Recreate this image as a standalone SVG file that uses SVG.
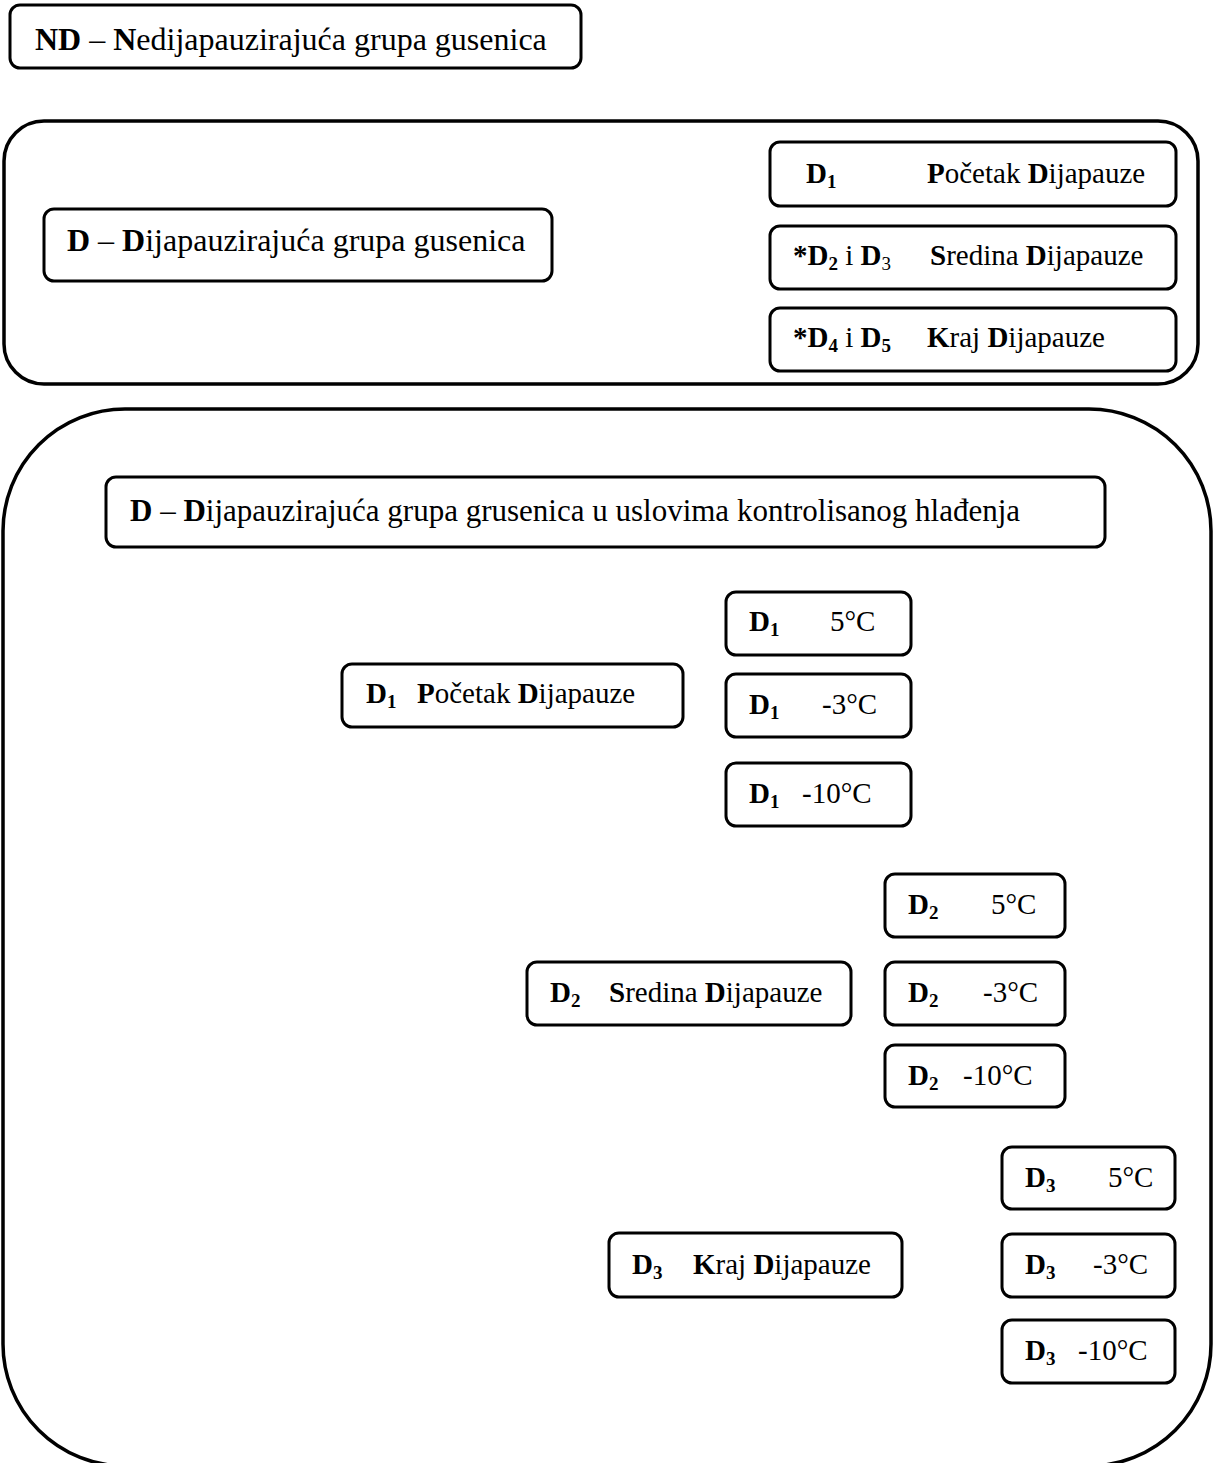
<svg xmlns="http://www.w3.org/2000/svg" width="1214" height="1463" viewBox="0 0 1214 1463">
<style>
.box{fill:#fff;stroke:#000;stroke-width:3}
.big{fill:none;stroke:#000;stroke-width:3.5}
text{font-family:"Liberation Serif","Times New Roman",serif;font-size:29px;fill:#000}
.t{font-size:32px}
.t2{font-size:31px}
.b{font-weight:bold}
.s{font-size:19px}
</style>
<rect width="1214" height="1463" fill="#fff"/>
<g id="nd">
<rect class="box" x="10" y="5" width="571" height="63" rx="10"/>
<text class="t" x="35" y="50"><tspan class="b">ND</tspan> – <tspan class="b">N</tspan>edijapauzirajuća grupa gusenica</text>
</g>
<g id="group-d">
<rect class="big" x="4" y="121" width="1194" height="263" rx="40"/>
<g id="d-title">
<rect class="box" x="44" y="209" width="508" height="72" rx="10"/>
<text class="t" x="67" y="251"><tspan class="b">D</tspan> – <tspan class="b">D</tspan>ijapauzirajuća grupa gusenica</text>
</g>
<g id="d1">
<rect class="box" x="770" y="142" width="406" height="64" rx="10"/>
<text x="806" y="183"><tspan class="b">D</tspan><tspan class="b s" dy="5">1</tspan></text>
<text x="927" y="183"><tspan class="b">P</tspan>očetak <tspan class="b">D</tspan>ijapauze</text>
</g>
<g id="d23">
<rect class="box" x="770" y="226" width="406" height="63" rx="10"/>
<text x="793" y="265"><tspan class="b">*D</tspan><tspan class="b s" dy="5">2</tspan><tspan dy="-5"> i </tspan><tspan class="b">D</tspan><tspan class="s" dy="5">3</tspan></text>
<text x="930" y="265"><tspan class="b">S</tspan>redina <tspan class="b">D</tspan>ijapauze</text>
</g>
<g id="d45">
<rect class="box" x="770" y="308" width="406" height="63" rx="10"/>
<text x="793" y="347"><tspan class="b">*D</tspan><tspan class="b s" dy="5">4</tspan><tspan dy="-5"> i </tspan><tspan class="b">D</tspan><tspan class="b s" dy="5">5</tspan></text>
<text x="927" y="347"><tspan class="b">K</tspan>raj <tspan class="b">D</tspan>ijapauze</text>
</g>
</g>
<g id="group-cooling">
<rect class="big" x="3" y="409" width="1208" height="1057" rx="122"/>
<g id="cool-title">
<rect class="box" x="106" y="477" width="999" height="70" rx="10"/>
<text class="t2" x="130" y="521"><tspan class="b">D</tspan> – <tspan class="b">D</tspan>ijapauzirajuća grupa grusenica u uslovima kontrolisanog hlađenja</text>
</g>
<g id="d1-start">
<rect class="box" x="342" y="664" width="341" height="63" rx="10"/>
<text x="366" y="703"><tspan class="b">D</tspan><tspan class="b s" dy="5">1</tspan></text>
<text x="417" y="703"><tspan class="b">P</tspan>očetak <tspan class="b">D</tspan>ijapauze</text>
</g>
<g id="d1-5">
<rect class="box" x="726" y="592" width="185" height="63" rx="10"/>
<text x="749" y="631"><tspan class="b">D</tspan><tspan class="b s" dy="5">1</tspan></text>
<text x="830" y="631">5°C</text>
</g>
<g id="d1-m3">
<rect class="box" x="726" y="674" width="185" height="63" rx="10"/>
<text x="749" y="714"><tspan class="b">D</tspan><tspan class="b s" dy="5">1</tspan></text>
<text x="822" y="714">-3°C</text>
</g>
<g id="d1-m10">
<rect class="box" x="726" y="763" width="185" height="63" rx="10"/>
<text x="749" y="803"><tspan class="b">D</tspan><tspan class="b s" dy="5">1</tspan></text>
<text x="802" y="803">-10°C</text>
</g>
<g id="d2-mid">
<rect class="box" x="527" y="962" width="324" height="63" rx="10"/>
<text x="550" y="1002"><tspan class="b">D</tspan><tspan class="b s" dy="5">2</tspan></text>
<text x="609" y="1002"><tspan class="b">S</tspan>redina <tspan class="b">D</tspan>ijapauze</text>
</g>
<g id="d2-5">
<rect class="box" x="885" y="874" width="180" height="63" rx="10"/>
<text x="908" y="914"><tspan class="b">D</tspan><tspan class="b s" dy="5">2</tspan></text>
<text x="991" y="914">5°C</text>
</g>
<g id="d2-m3">
<rect class="box" x="885" y="962" width="180" height="63" rx="10"/>
<text x="908" y="1002"><tspan class="b">D</tspan><tspan class="b s" dy="5">2</tspan></text>
<text x="983" y="1002">-3°C</text>
</g>
<g id="d2-m10">
<rect class="box" x="885" y="1045" width="180" height="62" rx="10"/>
<text x="908" y="1085"><tspan class="b">D</tspan><tspan class="b s" dy="5">2</tspan></text>
<text x="963" y="1085">-10°C</text>
</g>
<g id="d3-end">
<rect class="box" x="609" y="1233" width="293" height="64" rx="10"/>
<text x="632" y="1274"><tspan class="b">D</tspan><tspan class="b s" dy="5">3</tspan></text>
<text x="693" y="1274"><tspan class="b">K</tspan>raj <tspan class="b">D</tspan>ijapauze</text>
</g>
<g id="d3-5">
<rect class="box" x="1002" y="1147" width="173" height="62" rx="10"/>
<text x="1025" y="1187"><tspan class="b">D</tspan><tspan class="b s" dy="5">3</tspan></text>
<text x="1108" y="1187">5°C</text>
</g>
<g id="d3-m3">
<rect class="box" x="1002" y="1234" width="173" height="63" rx="10"/>
<text x="1025" y="1274"><tspan class="b">D</tspan><tspan class="b s" dy="5">3</tspan></text>
<text x="1093" y="1274">-3°C</text>
</g>
<g id="d3-m10">
<rect class="box" x="1002" y="1320" width="173" height="63" rx="10"/>
<text x="1025" y="1360"><tspan class="b">D</tspan><tspan class="b s" dy="5">3</tspan></text>
<text x="1078" y="1360">-10°C</text>
</g>
</g>
<g id="connectors"/>
</svg>
